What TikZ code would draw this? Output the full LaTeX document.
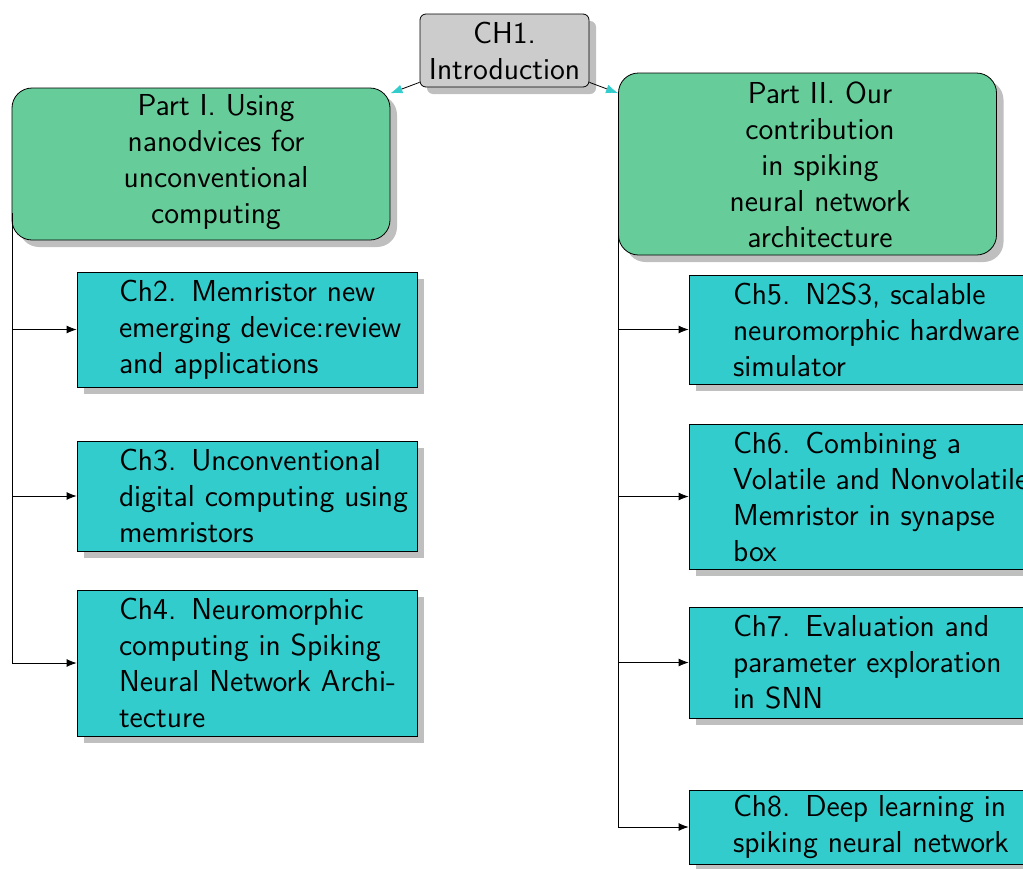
\documentclass[tikz,border=0pt]{standalone}
\usepackage{tikz}
\usetikzlibrary{arrows.meta, positioning, shadows}
\definecolor{partgreen}{RGB}{102,204,153}
\definecolor{chcyan}{RGB}{51,204,204}
\definecolor{introgray}{RGB}{204,204,204}
\newcommand{\boxfont}{\fontsize{15.15}{18}\selectfont\sffamily\xspaceskip=7.5pt}

\begin{document}
\begin{tikzpicture}[x=0.5pt, y=-0.5pt,
    boxshadow/.style={drop shadow={shadow xshift=3.5pt, shadow yshift=-3.5pt, fill=black!25, opacity=1}},
    introbox/.style={draw, fill=introgray, rounded corners=3pt, boxshadow, minimum width=84.5pt, minimum height=36.5pt, align=center, inner sep=0pt, font=\boxfont},
    partbox/.style={draw, fill=partgreen, rounded corners=10pt, boxshadow, minimum width=189pt, inner sep=0pt},
    chbox/.style={draw, fill=chcyan, boxshadow, minimum width=170pt, inner sep=0pt},
    parttxt/.style={align=center, inner sep=0pt, font=\boxfont},
    chtxt/.style={align=left, inner sep=0pt, font=\boxfont},
    arrow/.style={-{Latex[length=5pt, width=4pt]}},
    introarrow/.style={-{Latex[length=6pt, width=4.5pt, color=chcyan]}}
]
    \useasboundingbox (0,0) rectangle (1023,868);

    % top and the two parts
    \node[introbox] (ch1) at (504.5,50.5) {CH1.\\Introduction};
    \node[partbox, minimum height=76pt] (part1) at (201,164) {};
    \node[parttxt] (part1t) at (216,162) {Part I. Using\\nanodvices for\\unconventional\\computing};
    \node[partbox, minimum height=91pt] (part2) at (807.5,164) {};
    \node[parttxt] (part2t) at (820,165) {Part II. Our\\contribution\\in spiking\\neural network\\architecture};

    \draw[introarrow] (ch1) -- (part1);
    \draw[introarrow] (ch1) -- (part2);

    % chapters of part I
    \node[chbox, minimum height=57.5pt] (ch2) at (247,329.5) {};
    \node[chtxt, right=21pt of ch2.west] (ch2t) {Ch2. Memristor new\\emerging device:review\\and applications};
    \node[chbox, minimum height=55pt] (ch3) at (247,496) {};
    \node[chtxt, right=21pt of ch3.west] (ch3t) {Ch3. Unconventional\\digital computing using\\memristors};
    \node[chbox, minimum height=73pt] (ch4) at (247,663) {};
    \node[chtxt, right=21pt of ch4.west] (ch4t) {Ch4. Neuromorphic\\computing in Spiking\\Neural Network Archi-\\tecture};

    % chapters of part II
    \node[chbox, minimum height=54.5pt] (ch5) at (859,329.5) {};
    \node[chtxt, right=22pt of ch5.west] (ch5t) {Ch5. N2S3, scalable\\neuromorphic hardware\\simulator};
    \node[chbox, minimum height=72.5pt] (ch6) at (859,496.5) {};
    \node[chtxt, right=22pt of ch6.west] (ch6t) {Ch6. Combining a\\Volatile and Nonvolatile\\Memristor in synapse\\box};
    \node[chbox, minimum height=55.5pt] (ch7) at (859,662.5) {};
    \node[chtxt, right=22pt of ch7.west] (ch7t) {Ch7. Evaluation and\\parameter exploration\\in SNN};
    \node[chbox, minimum height=37pt] (ch8) at (859,827) {};
    \node[chtxt, right=22pt of ch8.west] (ch8t) {Ch8. Deep learning in\\spiking neural network};

    % buses
    \coordinate (lbus) at (12,213);
    \coordinate (rbus) at (618,213);
    \foreach \c in {ch2,ch3,ch4}
        \draw[arrow] (lbus) |- (\c.west);
    \foreach \c in {ch5,ch6,ch7,ch8}
        \draw[arrow] (rbus) |- (\c.west);
\end{tikzpicture}
\end{document}
